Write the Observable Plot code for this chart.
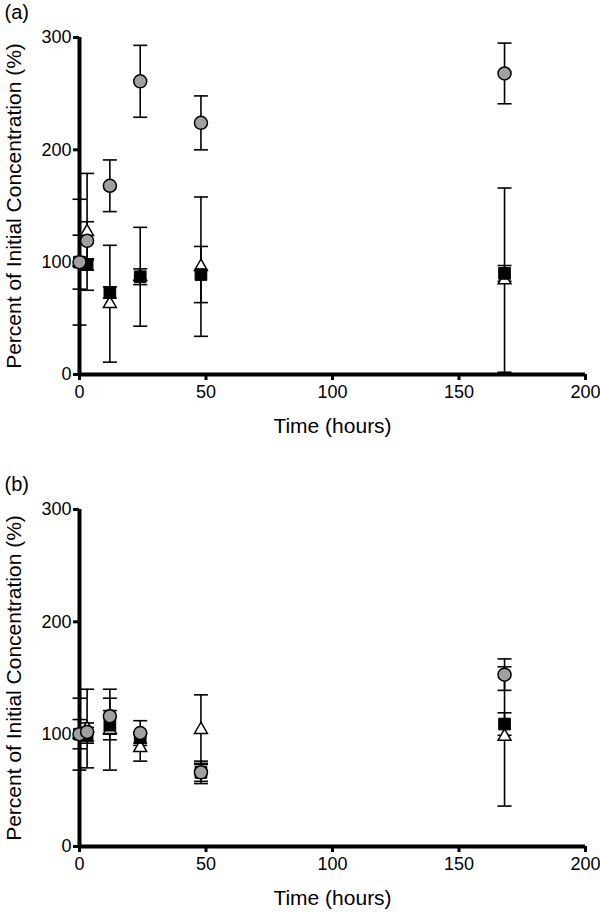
<!DOCTYPE html>
<html>
<head>
<meta charset="utf-8">
<script src="https://cdn.jsdelivr.net/npm/d3@7"></script>
<script src="https://cdn.jsdelivr.net/npm/@observablehq/plot@0.6"></script>
<style>
  html, body { margin: 0; padding: 0; background: white; }
  #chart svg { display: block; }
</style>
</head>
<body>
<div id="chart"></div>
<script>
// ---- data ----
const times = [0, 3, 12, 24, 48, 168];
const xTicks = [0, 50, 100, 150, 200];
const yTicks = [0, 100, 200, 300];
const panelLabels = ["(a)", "(b)"];
const xTitle = "Time (hours)";
const yTitle = "Percent of Initial Concentration (%)";

// Panel (a)
const circleA = [100, 119, 168, 261, 224, 268];
const circleErrA = [0, 17, 23, 32, 24, 27];
const squareA = [100, 98, 73, 87, 89, 90];
const squareErrA = [24, 5, 5, 7, 25, 7];
const triangleA = [100, 127, 63, 87, 96, 84];
const triangleErrA = [56, 52, 52, 44, 62, 82];

// Panel (b)
const circleB = [100, 102, 116, 101, 66, 153];
const circleErrB = [0, 8, 16, 11, 10, 14];
const squareB = [100, 99, 108, 97, 66, 109];
const squareErrB = [13, 7, 13, 5, 8, 10];
const triangleB = [100, 105, 104, 88, 104, 98];
const triangleErrB = [32, 35, 36, 12, 31, 62];

function rows(vals, errs) {
  return times.map((t, i) => ({t, v: vals[i], e: errs[i]}));
}

const capSymbol = {
  draw(context) {
    context.moveTo(-7, 0);
    context.lineTo(7, 0);
  }
};

const FONT = "'Liberation Sans', Arial, Helvetica, sans-serif";

function panel(label, tri, sq, circ, marginTop, marginBottom) {
  const all = [...tri, ...sq, ...circ].filter(d => d.e > 0);
  return Plot.plot({
    width: 600,
    height: 456,
    marginLeft: 79,
    marginRight: 15,
    marginTop,
    marginBottom,
    style: {fontFamily: FONT, fontSize: "18px", background: "white", color: "black"},
    x: {domain: [0, 200]},
    y: {domain: [0, 300]},
    marks: [
      // error bars
      Plot.ruleX(all, {x: "t", y1: d => d.v - d.e, y2: d => d.v + d.e, stroke: "black", strokeWidth: 1.6}),
      Plot.dot(all, {x: "t", y: d => d.v + d.e, symbol: capSymbol, fill: "none", stroke: "black", strokeWidth: 1.6}),
      Plot.dot(all, {x: "t", y: d => d.v - d.e, symbol: capSymbol, fill: "none", stroke: "black", strokeWidth: 1.6}),
      // axes
      Plot.ruleY([0], {stroke: "black", strokeWidth: 4}),
      Plot.ruleX([0], {stroke: "black", strokeWidth: 4}),
      Plot.axisX({ticks: xTicks, tickSize: 6, tickPadding: 5, strokeWidth: 3, label: null, fontSize: 18}),
      Plot.axisY({ticks: yTicks, tickSize: 6, tickPadding: 2, strokeWidth: 3, label: null, fontSize: 18}),
      // markers
      Plot.dot(tri, {x: "t", y: "v", symbol: "triangle", r: 4.8, fill: "white", stroke: "black", strokeWidth: 1.5}),
      Plot.dot(sq, {x: "t", y: "v", symbol: "square", r: 6.6, fill: "black", stroke: "black", strokeWidth: 1}),
      Plot.dot(circ, {x: "t", y: "v", r: 6.5, fill: "#a0a0a0", stroke: "black", strokeWidth: 1.5}),
      // titles
      Plot.text([xTitle], {frameAnchor: "bottom", textAnchor: "middle", lineAnchor: "middle", dy: 52, fontSize: 21}),
      Plot.text([yTitle], {frameAnchor: "left", textAnchor: "middle", lineAnchor: "middle", rotate: -90, dx: -65, fontSize: 21}),
      Plot.text([label], {frameAnchor: "top-left", textAnchor: "start", lineAnchor: "middle", dx: -75, dy: -25, fontSize: 20})
    ]
  });
}

const chart = document.getElementById("chart");
chart.appendChild(panel(panelLabels[0], rows(triangleA, triangleErrA), rows(squareA, squareErrA), rows(circleA, circleErrA), 37, 82));
chart.appendChild(panel(panelLabels[1], rows(triangleB, triangleErrB), rows(squareB, squareErrB), rows(circleB, circleErrB), 53, 66));
</script>
</body>
</html>
